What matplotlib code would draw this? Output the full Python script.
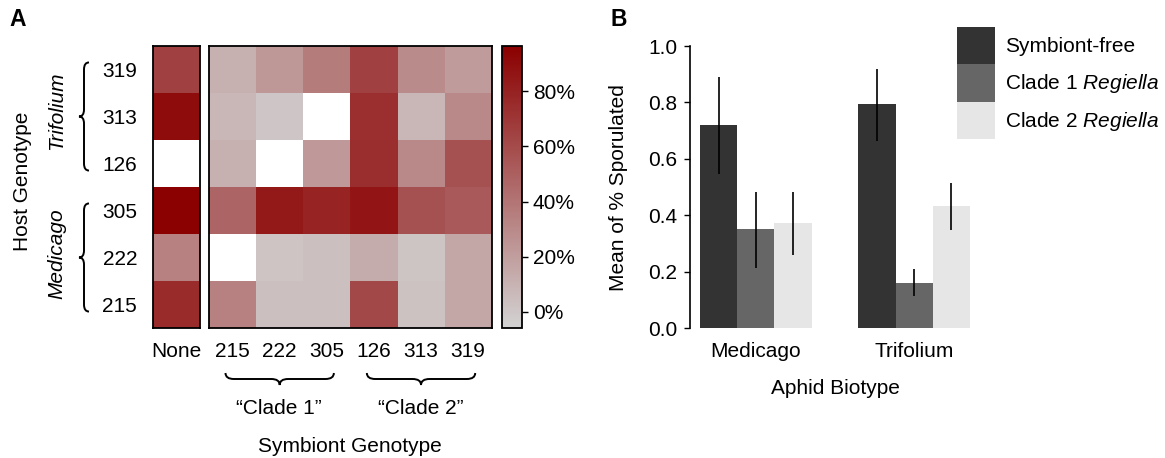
import numpy as np
import matplotlib
matplotlib.use("Agg")
import matplotlib.pyplot as plt
from matplotlib.colors import LinearSegmentedColormap, Normalize
from matplotlib.path import Path
from matplotlib.patches import PathPatch, Patch

plt.rcParams['font.family'] = 'Liberation Sans'
plt.rcParams['mathtext.fontset'] = 'custom'
plt.rcParams['mathtext.it'] = 'Liberation Sans:italic'
plt.rcParams['mathtext.rm'] = 'Liberation Sans'

# --- data, panel A (percent sporulated, NaN = not tested) ---
host_geno = ['319', '313', '126', '305', '222', '215']
symb_geno = ['215', '222', '305', '126', '313', '319']
none_col = [65, 90, np.nan, 96, 34, 75]
heat_319 = [11, 23, 36, 65, 29, 21]
heat_313 = [7.5, 0.5, np.nan, 73, 7.5, 30]
heat_126 = [11, np.nan, 22, 74, 30, 57]
heat_305 = [48, 84, 79, 86, 57, 53]
heat_222 = [np.nan, 1, 3.5, 13, 1.5, 16]
heat_215 = [34, 3.5, 3.5, 61, 2.5, 16]
cbar_min, cbar_max = -5.8, 96.3
cbar_ticks = [0, 20, 40, 60, 80]

# --- data, panel B ---
biotypes = ['Medicago', 'Trifolium']
groups = ['Symbiont-free', 'Clade 1 $\\mathit{Regiella}$', 'Clade 2 $\\mathit{Regiella}$']
mean_free = [0.72, 0.793]
mean_c1 = [0.351, 0.161]
mean_c2 = [0.374, 0.433]
lo_free = [0.545, 0.664]
hi_free = [0.891, 0.920]
lo_c1 = [0.215, 0.114]
hi_c1 = [0.484, 0.209]
lo_c2 = [0.258, 0.348]
hi_c2 = [0.484, 0.513]

FS = 15  # tick labels
TS = 15  # axis titles

W, H = 1165, 458
fig = plt.figure(figsize=(W / 100, H / 100), dpi=100)


def box(x0, y0, x1, y1):
    # pixel box measured from top-left -> figure rect
    return [x0 / W, 1 - y1 / H, (x1 - x0) / W, (y1 - y0) / H]


def fxy(x, y):
    return x / W, 1 - y / H


def draw_brace(u0, u1, base, depth, vertical):
    # curly brace in display pixels, tip pointing away from the plot
    start = min(u0, u1)
    L = abs(u1 - u0)
    m = depth / 2
    a = min(depth * 0.7, L * 0.12)
    uv = [(0, 0), (0, m), (a, m), (L / 2 - a, m), (L / 2, m), (L / 2, depth),
          (L / 2, m), (L / 2 + a, m), (L - a, m), (L, m), (L, 0)]
    codes = [Path.MOVETO, Path.CURVE3, Path.CURVE3, Path.LINETO, Path.CURVE3, Path.CURVE3,
             Path.CURVE3, Path.CURVE3, Path.LINETO, Path.CURVE3, Path.CURVE3]
    if vertical:
        pts = [(base - v, start + u) for u, v in uv]
    else:
        pts = [(start + u, base - v) for u, v in uv]
    pts = fig.transFigure.inverted().transform(pts)
    fig.add_artist(PathPatch(Path(pts, codes), transform=fig.transFigure,
                             fill=False, lw=1.4, color='black'))


# ================= panel A =================
cmap = LinearSegmentedColormap.from_list('greyred', ['#D3D3D3', '#8B0000'])
cmap.set_bad('white')
norm = Normalize(cbar_min, cbar_max)

ax_none = fig.add_axes(box(153, 46, 200, 328))
ax_heat = fig.add_axes(box(209, 46, 491.7, 328))
cax = fig.add_axes(box(501.7, 46, 521.7, 328))

heat = np.array([heat_319, heat_313, heat_126, heat_305, heat_222, heat_215])
ax_none.imshow(np.ma.masked_invalid(np.array(none_col)[:, None]), cmap=cmap, norm=norm, aspect='auto')
im = ax_heat.imshow(np.ma.masked_invalid(heat), cmap=cmap, norm=norm, aspect='auto')

ax_none.set_yticks(range(len(host_geno)))
ax_none.set_yticklabels(host_geno)
ax_none.set_xticks([0])
ax_none.set_xticklabels(['None'])
ax_none.tick_params(length=0, labelsize=FS, pad=11.5)
ax_none.tick_params(axis='x', pad=10)
ax_heat.set_yticks([])
ax_heat.set_xticks(range(len(symb_geno)))
ax_heat.set_xticklabels(symb_geno)
ax_heat.tick_params(length=0, labelsize=FS, pad=10)
for a in (ax_none, ax_heat):
    for s in a.spines.values():
        s.set_linewidth(1.3)

cb = fig.colorbar(im, cax=cax, ticks=cbar_ticks)
cb.ax.set_yticklabels([f'{t}%' for t in cbar_ticks])
cb.ax.tick_params(length=4.3, width=1, labelsize=FS, pad=3.6)
cb.outline.set_linewidth(1.3)

# braces and group labels
fig.canvas.draw()
to_disp = ax_heat.transData.transform
y_a = to_disp((0, -0.15))[1]
y_b = to_disp((0, 2.15))[1]
y_c = to_disp((0, 2.85))[1]
y_d = to_disp((0, 5.15))[1]
draw_brace(y_b, y_a, 89, 10, True)
draw_brace(y_d, y_c, 89, 10, True)
x_a = to_disp((-0.15, 0))[0]
x_b = to_disp((2.15, 0))[0]
x_c = to_disp((2.85, 0))[0]
x_d = to_disp((5.15, 0))[0]
draw_brace(x_a, x_b, H - 373, 12, False)
draw_brace(x_c, x_d, H - 373, 12, False)

fig.text(*fxy(23, 181), 'Host Genotype', rotation=90, ha='center', va='center', fontsize=TS)
fig.text(*fxy(57, 111), 'Trifolium', rotation=90, ha='center', va='center', fontsize=TS, style='italic')
fig.text(*fxy(57, 254), 'Medicago', rotation=90, ha='center', va='center', fontsize=TS, style='italic')
fig.text(*fxy(279, 409), '\u201cClade 1\u201d', ha='center', va='center', fontsize=TS)
fig.text(*fxy(421, 409), '\u201cClade 2\u201d', ha='center', va='center', fontsize=TS)
fig.text(*fxy(350, 446), 'Symbiont Genotype', ha='center', va='center', fontsize=TS)
fig.text(*fxy(18, 20), 'A', ha='center', va='center', fontsize=16.5, fontweight='bold')
fig.text(*fxy(619, 19), 'B', ha='center', va='center', fontsize=16.5, fontweight='bold')

# ================= panel B =================
ax2 = fig.add_axes(box(690, 46, 980, 328.3))
colors = ['#333333', '#666666', '#E6E6E6']
bw = 0.235
xpos = np.arange(1, len(biotypes) + 1)
means = [mean_free, mean_c1, mean_c2]
los = [lo_free, lo_c1, lo_c2]
his = [hi_free, hi_c1, hi_c2]
handles = []
for k in range(3):
    xs = xpos + (k - 1) * bw
    ax2.bar(xs, means[k], width=bw, color=colors[k], linewidth=0)
    ax2.vlines(xs, los[k], his[k], color='black', lw=1.2)
    handles.append(Patch(facecolor=colors[k], edgecolor='none', label=groups[k]))

ax2.set_xlim(0.585, 2.415)
ax2.set_ylim(0, 1)
ax2.set_yticks(np.arange(0, 1.01, 0.2))
ax2.set_yticklabels([f'{v:.1f}' for v in np.arange(0, 1.01, 0.2)])
ax2.set_xticks(xpos)
ax2.set_xticklabels(biotypes)
ax2.tick_params(axis='y', length=4.3, width=1, labelsize=FS, pad=5)
ax2.tick_params(axis='x', length=0, labelsize=FS, pad=10)
for s in ['top', 'right', 'bottom']:
    ax2.spines[s].set_visible(False)
ax2.spines['left'].set_linewidth(1.2)
ax2.set_ylabel('Mean of % Sporulated', fontsize=TS)
ax2.yaxis.set_label_coords(-0.248, 0.5)
ax2.set_xlabel('Aphid Biotype', fontsize=TS)
ax2.xaxis.set_label_coords(0.5, -0.215)
ax2.xaxis.label.set_va('center')
ax2.yaxis.label.set_va('center')

fig.legend(handles=handles, loc='upper left', bbox_to_anchor=fxy(957, 26.7),
           frameon=False, fontsize=TS, handlelength=1.81, handleheight=2.39,
           labelspacing=0, handletextpad=0.48, borderpad=0, borderaxespad=0)

fig.savefig('out.png', dpi=100)
